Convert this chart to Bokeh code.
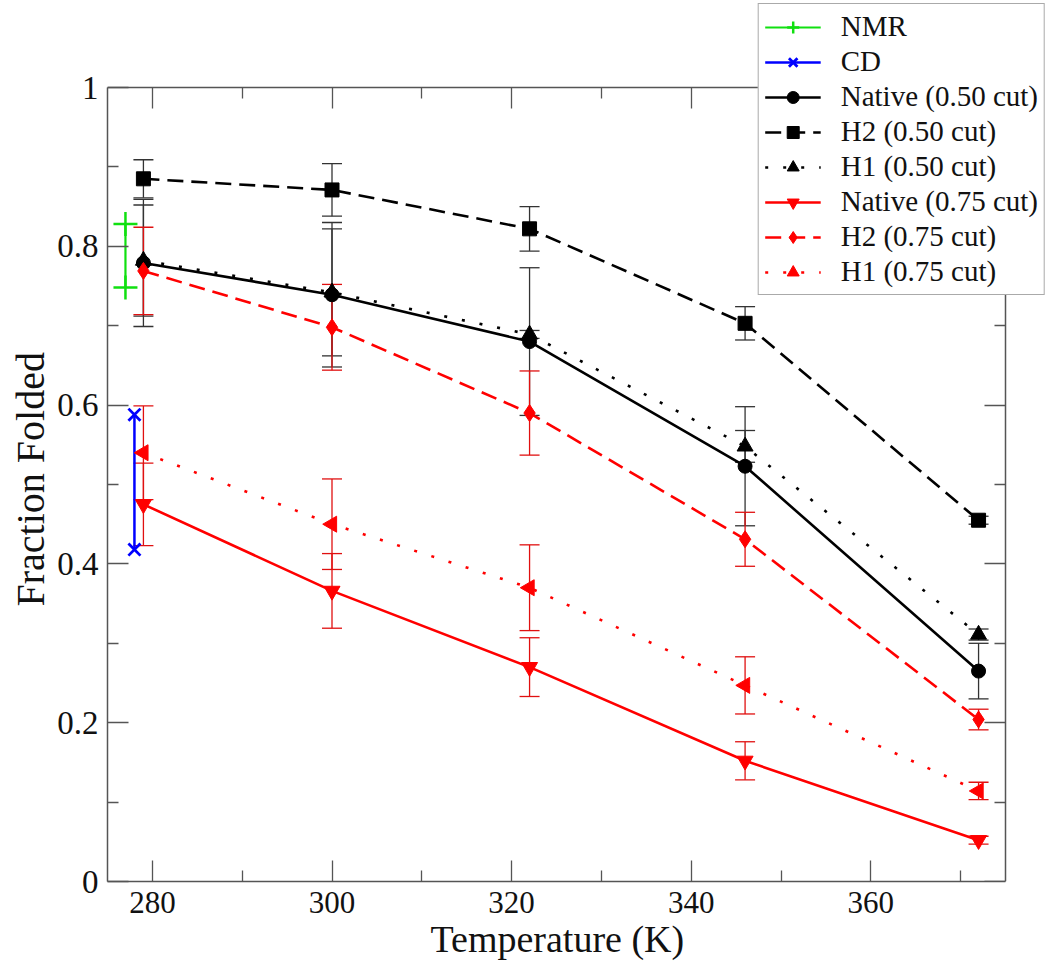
from bokeh.plotting import figure
from bokeh.models import (Whisker, TeeHead, ColumnDataSource, LinearAxis, FixedTicker,
                          Legend, LegendItem, Range1d, CustomJSTickFormatter, Title)
from bokeh.embed import file_html
from bokeh.resources import INLINE
import math

# ---------------- data ----------------
temps = [279, 300, 322, 346, 372]

native_050 = [0.779, 0.739, 0.680, 0.523, 0.265]
native_050_err = [0.080, 0.091, 0.093, 0.075, 0.035]
h2_050 = [0.885, 0.871, 0.822, 0.703, 0.455]
h2_050_err = [0.024, 0.033, 0.028, 0.021, 0.005]
h1_050 = [0.782, 0.742, 0.689, 0.548, 0.311]
h1_050_err = [0.070, 0.080, 0.005, 0.020, 0.007]

native_075 = [0.475, 0.366, 0.270, 0.152, 0.052]
native_075_err = [0.052, 0.047, 0.037, 0.024, 0.005]
h2_075 = [0.769, 0.698, 0.590, 0.431, 0.204]
h2_075_err = [0.055, 0.054, 0.053, 0.034, 0.013]
h1_075 = [0.540, 0.450, 0.370, 0.247, 0.114]
h1_075_err = [0.059, 0.057, 0.054, 0.036, 0.011]

nmr_t = [277, 277]
nmr_range = [0.748, 0.828]
cd_t = [278, 278]
cd_range = [0.418, 0.588]

x_major = [280, 300, 320, 340, 360]
x_minor = [290, 310, 330, 350, 370]
y_major = [0, 0.2, 0.4, 0.6, 0.8, 1.0]
y_minor = [0.1, 0.3, 0.5, 0.7, 0.9]
x_lo, x_hi = 275, 375
y_lo, y_hi = 0, 1

FONT = "Liberation Serif"
AX = "#555555"

# ---------------- geometry (pixels) ----------------
W, H = 1048, 972
BOX_L, BOX_R, BOX_T, BOX_B = 107, 1005, 87, 881   # visible axes box
px_per_x = (BOX_R - BOX_L) / (x_hi - x_lo)
px_per_y = (BOX_B - BOX_T) / (y_hi - y_lo)
x_end = x_lo + (W - BOX_L) / px_per_x
y_end = y_lo + BOX_B / px_per_y

p = figure(width=W, height=H, output_backend="svg", toolbar_location=None,
           x_range=Range1d(x_lo, x_end), y_range=Range1d(y_lo, y_end),
           min_border_left=BOX_L, min_border_right=0, min_border_top=0,
           min_border_bottom=H - BOX_B)
p.xgrid.visible = False
p.ygrid.visible = False
p.outline_line_color = None
p.background_fill_color = "white"
p.border_fill_color = "white"

xt = FixedTicker(ticks=x_major, minor_ticks=x_minor)
yt = FixedTicker(ticks=y_major, minor_ticks=y_minor)
yfmt = CustomJSTickFormatter(code="return (Math.round(tick*10)/10).toString();")
blank = CustomJSTickFormatter(code="return '';")


def style_axis(ax, ticker):
    ax.ticker = ticker
    ax.major_tick_in = 21
    ax.major_tick_out = 0
    ax.minor_tick_in = 11
    ax.minor_tick_out = 0
    ax.axis_line_color = AX
    ax.axis_line_width = 1.5
    ax.major_tick_line_color = AX
    ax.minor_tick_line_color = AX
    ax.major_tick_line_width = 1.3
    ax.minor_tick_line_width = 1.3
    ax.major_label_text_font = FONT
    ax.major_label_text_color = "#111111"


xb = p.below[0]
style_axis(xb, xt)
xb.bounds = (x_lo, x_hi)
xb.major_label_text_font_size = "31px"
xb.major_label_standoff = 10

yl = p.left[0]
style_axis(yl, yt)
yl.bounds = (y_lo, y_hi)
yl.formatter = yfmt
yl.major_label_text_font_size = "33px"
yl.major_label_standoff = 9

xtop = LinearAxis(fixed_location=y_hi, bounds=(x_lo, x_hi), formatter=blank)
style_axis(xtop, xt)
xtop.major_label_standoff = 0
p.add_layout(xtop, "above")
yr = LinearAxis(fixed_location=x_hi, bounds=(y_lo, y_hi), formatter=blank)
style_axis(yr, yt)
yr.major_label_standoff = 0
p.add_layout(yr, "right")

# axis titles, centred on the visible axes box
xlab = Title(text="Temperature (K)", align="left", offset=323,
             text_font=FONT, text_font_size="38px", text_font_style="normal",
             text_color="#111111", standoff=0)
p.add_layout(xlab, "below")
ylab = Title(text="Fraction Folded", align="left", offset=275,
             text_font=FONT, text_font_size="40px", text_font_style="normal",
             text_color="#111111", standoff=4)
p.add_layout(ylab, "left")


def errbars(vals, errs, color):
    src = ColumnDataSource(dict(x=temps,
                                upper=[v + e for v, e in zip(vals, errs)],
                                lower=[v - e for v, e in zip(vals, errs)]))
    w = Whisker(source=src, base="x", upper="upper", lower="lower", dimension="height",
                line_color=color, line_width=1.3,
                upper_head=TeeHead(size=20, line_color=color, line_width=1.3),
                lower_head=TeeHead(size=20, line_color=color, line_width=1.3))
    p.add_layout(w)


BLK_ERR = "#333333"
RED_ERR = "#e01010"
errbars(h2_050, h2_050_err, BLK_ERR)
errbars(native_050, native_050_err, BLK_ERR)
errbars(h1_050, h1_050_err, BLK_ERR)
errbars(h2_075, h2_075_err, RED_ERR)
errbars(h1_075, h1_075_err, RED_ERR)
errbars(native_075, native_075_err, RED_ERR)

# experimental ranges
nmr_seg = p.segment(x0=[nmr_t[0]], y0=[nmr_range[0]], x1=[nmr_t[1]], y1=[nmr_range[1]],
                    line_color="#10e010", line_width=2.2)
nmr_pts = p.scatter(nmr_t, nmr_range, marker="cross", size=24, line_color="#10e010",
                    line_width=2.5)
cd_seg = p.segment(x0=[cd_t[0]], y0=[cd_range[0]], x1=[cd_t[1]], y1=[cd_range[1]],
                   line_color="#0000ff", line_width=2.5)
cd_pts = p.scatter(cd_t, cd_range, marker="x", size=17, line_color="#0000ff", line_width=2.8)

LW = 2.6
series = [
    ("Native (0.50 cut)", native_050, "black", "solid", "circle", 14, 0),
    ("H2 (0.50 cut)", h2_050, "black", "16 8", "square", 14, 0),
    ("H1 (0.50 cut)", h1_050, "black", "3 15", "triangle", 16, 0),
    ("Native (0.75 cut)", native_075, "#ff0000", "solid", "inverted_triangle", 16, 0),
    ("H2 (0.75 cut)", h2_075, "#ff0000", "16 8", "diamond", 17, 0),
    ("H1 (0.75 cut)", h1_075, "#ff0000", "3 15", "triangle", 16, math.pi / 2),
]

items = [LegendItem(label="NMR", renderers=[nmr_seg, nmr_pts]),
         LegendItem(label="CD", renderers=[cd_seg, cd_pts])]
for label, vals, color, dash, marker, size, ang in series:
    ln = p.line(temps, vals, line_color=color, line_width=LW, line_dash=dash)
    sc = p.scatter(temps, vals, marker=marker, size=size, angle=ang,
                   fill_color=color, line_color=color)
    items.append(LegendItem(label=label, renderers=[ln, sc]))

legend = Legend(items=items, location="top_right")
legend.border_line_color = AX
legend.border_line_width = 1.5
legend.background_fill_color = "white"
legend.background_fill_alpha = 1.0
legend.label_text_font = FONT
legend.label_text_font_size = "29px"
legend.label_text_color = "#111111"
legend.glyph_width = 56
legend.glyph_height = 30
legend.label_height = 30
legend.spacing = 2
legend.padding = 6
legend.margin = 3
legend.label_standoff = 20
p.add_layout(legend)

open("out.html", "w").write(file_html(p, INLINE))
